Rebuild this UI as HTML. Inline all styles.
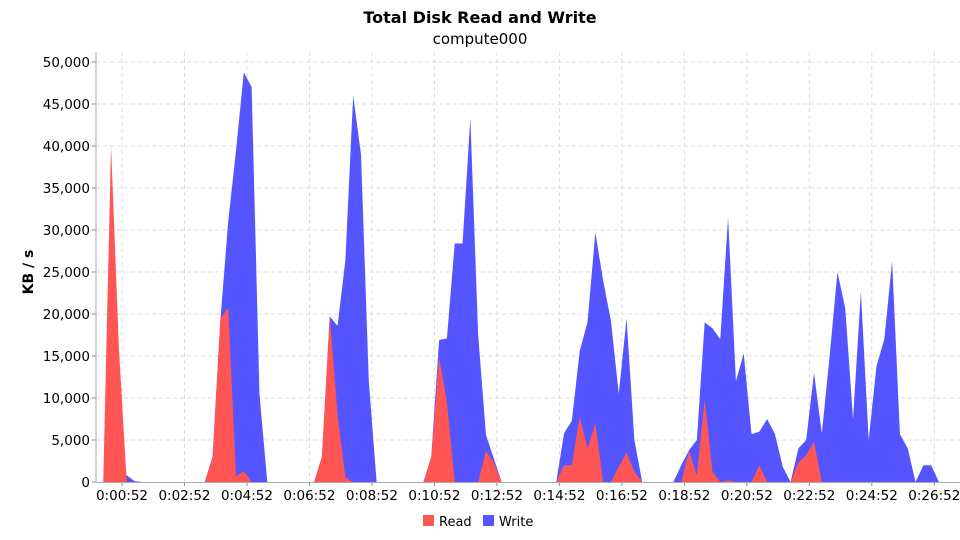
<!DOCTYPE html>
<html><head><meta charset="utf-8">
<style>
html,body{margin:0;padding:0;background:#fff;}
svg{display:block;font-family:"DejaVu Sans","Liberation Sans",sans-serif;}
</style></head>
<body>
<svg id="chart" width="960" height="540" viewBox="0 0 960 540" xmlns="http://www.w3.org/2000/svg">
<text x="480" y="23" text-anchor="middle" font-size="16" font-weight="bold" fill="#000">Total Disk Read and Write</text>
<text x="480" y="44" text-anchor="middle" font-size="15" fill="#000">compute000</text>
<text transform="translate(33,272) rotate(-90)" text-anchor="middle" font-size="14" font-weight="bold" fill="#000">KB / s</text>
<g id="grid"></g>
<g id="areas"></g>
<g id="axes"></g>
<g>
  <g>
    <rect x="423" y="515" width="11" height="11" fill="#FF5555"/>
    <text x="439" y="526" font-size="13" fill="#000">Read</text>
  </g>
  <g>
    <rect x="483" y="515" width="11" height="11" fill="#5555FF"/>
    <text x="499" y="526" font-size="13" fill="#000">Write</text>
  </g>
</g>
</svg>
<script>
// sample times: t = T0 + i*DT seconds
const T0 = 16;
const DT = 15;
const readKB = [0,40,16,0,0,0,0,0,0,0,0,0,0,0,3,19.5,20.7,0.7,1.3,0,
0,0,0,0,0,0,0,0,3,19.8,8,0.5,0,0,0,0,0,0,0,0,
0,0,3,14.8,9.5,0,0,0,0,3.7,2.3,0,0,0,0,0,0,0,0,2,
2,7.8,4,7,0,0,1.8,3.5,1.2,0,0,0,0,0,0,3.7,0.8,9.8,1.2,0,
0.2,0,0,0,2,0,0,0,0,2.3,3.2,4.8,0,0,0,0,0,0,0,0,
0,0,0,0,0,0,0,0,0,0];
const writeKB = [0,0,0,0.8,0.1,0,0,0,0,0,0,0,0,0,3,19.3,31,39.5,48.8,47,
10.5,0,0,0,0,0,0,0,3,19.7,18.6,26.4,46,39,12,0,0,0,0,0,
0,0,3,16.9,17.1,28.4,28.4,43.3,17.5,5.6,2.8,0,0,0,0,0,0,0,0,5.8,
7.3,15.6,19,29.7,24,19.2,10.5,19.5,5,0,0,0,0,0,2,3.8,5,19,18.3,17,
31.5,12,15.3,5.7,6,7.5,5.7,1.8,0,4,5,13,5.8,15,25,20.7,7.5,22.7,5,13.8,
17,26.3,5.7,4,0,2,2,0,0,0];
const yTicks = [0,5000,10000,15000,20000,25000,30000,35000,40000,45000,50000];
const xTickSeconds = [52,172,292,412,532,652,772,892,1012,1132,1252,1372,1492,1612];

const NS="http://www.w3.org/2000/svg";
const L=96,R=960,TOP=62,BOT=482;
const PXS=0.5207;
function xs(t){return 122+(t-52)*PXS;}
function ys(v){return BOT-(v/50000)*(BOT-TOP);}
function mk(tag,attrs,parent){const e=document.createElementNS(NS,tag);for(const k in attrs)e.setAttribute(k,attrs[k]);parent.appendChild(e);return e;}
function fmt(s){const h=Math.floor(s/3600),m=Math.floor(s%3600/60),sec=s%60;return h+":"+String(m).padStart(2,"0")+":"+String(sec).padStart(2,"0");}
const grid=document.getElementById('grid'),axes=document.getElementById('axes'),areas=document.getElementById('areas');
yTicks.forEach(v=>{
  const y=ys(v);
  if(v>0){const g=mk('line',{x1:L,x2:R,y1:y,y2:y,stroke:'#dcdcdc','stroke-width':1,'stroke-dasharray':'4,3'},grid);
  
  }
  const tk=mk('line',{x1:L-4,x2:L,y1:y,y2:y,stroke:'#888'},axes);
  
  
  const t=mk('text',{x:L-6,y:y+5,'text-anchor':'end','font-size':13.5,fill:'#000'},axes);
  t.textContent=v.toLocaleString('en-US');
  
  
});
xTickSeconds.forEach(s=>{
  const x=xs(s);
  const g=mk('line',{x1:x,x2:x,y1:TOP-10,y2:BOT,stroke:'#dcdcdc','stroke-width':1,'stroke-dasharray':'4,3'},grid);
  
  
  const tk=mk('line',{x1:x,x2:x,y1:BOT,y2:BOT+4,stroke:'#888'},axes);
  
  
  const t=mk('text',{x:x,y:BOT+18,'text-anchor':'middle','font-size':13.5,fill:'#000'},axes);
  t.textContent=fmt(s);
  
  
});
function area(vals,color,name){
  let d='M'+xs(T0)+','+ys(0);
  vals.forEach((v,i)=>{d+=' L'+xs(T0+i*DT).toFixed(2)+','+ys(v*1000).toFixed(2);});
  d+=' L'+xs(T0+(vals.length-1)*DT).toFixed(2)+','+ys(0)+' Z';
  const p=mk('path',{d:d,fill:color},areas);
  
  
}
area(writeKB,'#5555FF','write-area');
area(readKB,'#FF5555','read-area');
const ax=mk('line',{x1:L,x2:L,y1:TOP-10,y2:BOT,stroke:'#aaa','stroke-width':1},axes);


const bx=mk('line',{x1:L,x2:R,y1:BOT+0.5,y2:BOT+0.5,stroke:'#aaa','stroke-width':1},axes);


</script>
</body></html>
